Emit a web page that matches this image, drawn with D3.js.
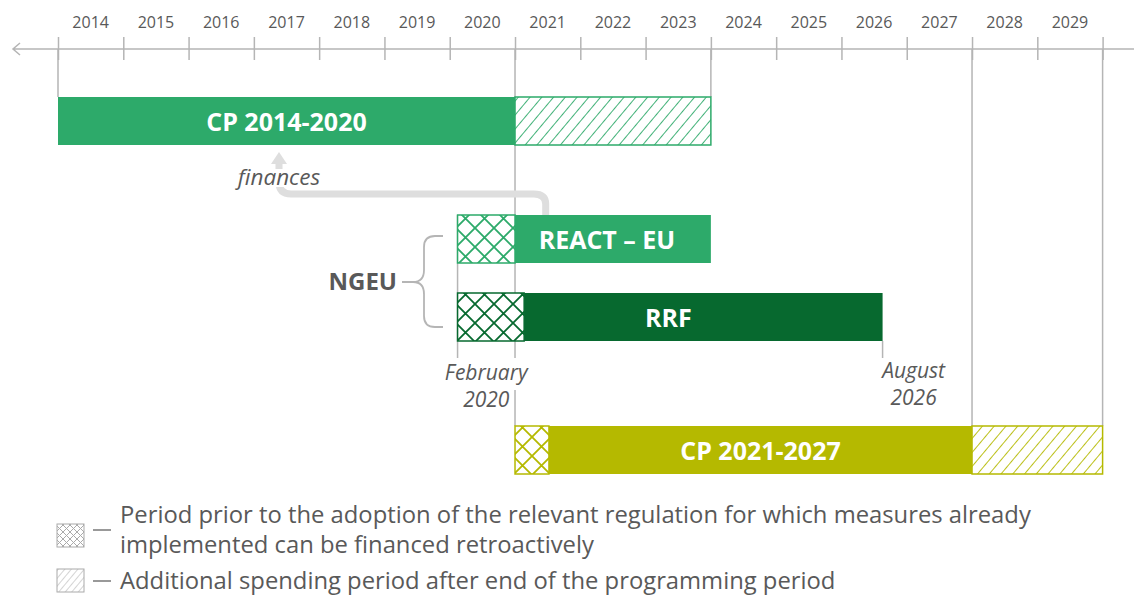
<!DOCTYPE html>
<html>
<head>
<meta charset="utf-8">
<script src="https://cdn.jsdelivr.net/npm/d3@7"></script>
<style>
  html, body { margin: 0; padding: 0; background: #fff; }
  svg { display: block; font-family: "Open Sans", sans-serif; }
</style>
</head>
<body>
<div id="chart"></div>
<script>
// DATA ###################################################
const yearLabels = [2014, 2015, 2016, 2017, 2018, 2019, 2020, 2021,
                    2022, 2023, 2024, 2025, 2026, 2027, 2028, 2029];
const programmes  = ["CP 2014-2020", "REACT – EU", "RRF", "CP 2021-2027"];
// decimal years
const retroStart  = [null, 2020.12, 2020.12, 2021.0];   // crosshatched part
const periodStart = [2014, 2021.0, 2021.14, 2021.52];
const periodEnd   = [2021, 2024, 2026.63, 2028];
const extraEnd    = [2024, null, null, 2030];           // hatched part
const dateNotes   = [["February", "2020"], ["August", "2026"]];
const dateNoteAt  = [2020.12, 2026.63];

// CONSTANTS ##############################################
const width = 1134, height = 597;
const axisY = 49;
const barH = 48;
const grey = "#b5b5b5";
const textGrey = "#595959";

const x = d3.scaleLinear().domain([2014, 2030]).range([58, 1102.6]);
const rowTop = d3.scaleOrdinal().domain(programmes).range([97, 215, 293, 426]);
const colour = d3.scaleOrdinal().domain(programmes)
    .range(["#2daa6a", "#2daa6a", "#07692f", "#b5b900"]);

const svg = d3.select("#chart").append("svg")
    .attr("width", width)
    .attr("height", height);

// PATTERNS ===============================================
const defs = svg.append("defs");
function hatch(id, col, gap, sw) {
  const p = defs.append("pattern").attr("id", id)
      .attr("patternUnits", "userSpaceOnUse")
      .attr("width", gap).attr("height", gap)
      .attr("patternTransform", "rotate(40)");
  p.append("rect").attr("width", gap).attr("height", gap).attr("fill", "#fff");
  p.append("line").attr("x1", 0).attr("y1", 0).attr("x2", 0).attr("y2", gap)
      .attr("stroke", col).attr("stroke-width", sw);
}
function cross(id, col, s, sw) {
  const p = defs.append("pattern").attr("id", id)
      .attr("patternUnits", "userSpaceOnUse")
      .attr("width", s).attr("height", s);
  p.append("rect").attr("width", s).attr("height", s).attr("fill", "#fff");
  p.append("path").attr("d", `M0,0L${s},${s}M${s},0L0,${s}`)
      .attr("stroke", col).attr("stroke-width", sw).attr("fill", "none");
}
programmes.forEach((p, i) => {
  hatch("hatch" + i, colour(p), 9, 1.8);
  cross("cross" + i, colour(p), 19, 1.8);
});
hatch("hatchLegend", "#aaa", 5, 1);
cross("crossLegend", "#aaa", 7, 1);

// AXIS ===================================================
svg.append("path")
    .attr("d", `M20,${axisY - 6}L13,${axisY}L20,${axisY + 6}M13,${axisY}H${width}`)
    .attr("fill", "none").attr("stroke", grey).attr("stroke-width", 1.5);

const ticks = svg.append("g")
    .attr("transform", `translate(0,${axisY})`)
    .call(d3.axisTop(x).tickValues(d3.range(2014, 2031)).tickFormat("").tickSize(12));
ticks.select(".domain").remove();
ticks.selectAll(".tick line").attr("y1", 11).attr("stroke", grey).attr("stroke-width", 1.5);

const yearBand = d3.scaleBand().domain(yearLabels).range(x.range());
const labels = svg.append("g")
    .attr("transform", `translate(0,28)`)
    .call(d3.axisTop(yearBand).tickSize(0).tickPadding(0));
labels.select(".domain").remove();
labels.selectAll("text")
    .style("font-family", "Open Sans")
    .style("font-size", "16px")
    .attr("fill", textGrey);

// GUIDE LINES ============================================
const guides = [[2014, 0], [2024, 0], [2028, 3], [2030, 3]];
svg.selectAll("line.guide")
  .data(guides)
  .join("line")
    .attr("class", "guide")
    .attr("x1", d => x(d[0])).attr("x2", d => x(d[0]))
    .attr("y1", axisY).attr("y2", d => rowTop(programmes[d[1]]))
    .attr("stroke", grey).attr("stroke-width", 1.5);

// 2021 line, broken around the "2020" note
[[axisY, 358], [390, rowTop(programmes[3])]].forEach(s => {
  svg.append("line")
      .attr("x1", x(2021)).attr("x2", x(2021))
      .attr("y1", s[0]).attr("y2", s[1])
      .attr("stroke", grey).attr("stroke-width", 1.5);
});

// date notes: short drop lines + italic text
const noteLine = [[rowTop(programmes[1]), 358], [rowTop(programmes[2]) + barH, 358]];
dateNoteAt.forEach((d, i) => {
  svg.append("line")
      .attr("x1", x(d)).attr("x2", x(d))
      .attr("y1", noteLine[i][0]).attr("y2", noteLine[i][1])
      .attr("stroke", grey).attr("stroke-width", 1.5);
});
const noteX = [(x(dateNoteAt[0]) + x(2021)) / 2, x(dateNoteAt[1]) + 31];
dateNotes.forEach((lines, i) => {
  const t = svg.append("text")
      .attr("text-anchor", "middle")
      .attr("x", noteX[i])
      .attr("y", i === 0 ? 380 : 378)
      .style("font-style", "italic")
      .style("font-size", "21px")
      .attr("fill", textGrey);
  lines.forEach((l, j) => t.append("tspan").attr("x", noteX[i]).attr("dy", j ? 27 : 0).text(l));
});

// FINANCES ARROW =========================================
const ax = 279, ay = 202, rx = x(2021.47);
svg.append("path")
    .attr("d", `M${rx},${rowTop(programmes[1])}V${ay + 2}Q${rx},${ay - 8} ${rx - 12},${ay - 8}` +
               `H${ax + 12}Q${ax},${ay - 8} ${ax},${ay - 20}V163`)
    .attr("fill", "none").attr("stroke", "#dedede").attr("stroke-width", 7);
svg.append("path")
    .attr("d", `M${ax},152L${ax + 8},164H${ax - 8}Z`)
    .attr("fill", "#dedede");
svg.append("rect")
    .attr("x", 234).attr("y", 169).attr("width", 92).attr("height", 18).attr("fill", "#fff");
svg.append("text")
    .attr("x", 279).attr("y", 185)
    .attr("text-anchor", "middle")
    .style("font-style", "italic")
    .style("font-size", "22.5px")
    .attr("fill", textGrey)
    .text("finances");

// BARS ===================================================
const bars = svg.append("g");
programmes.forEach((p, i) => {
  const y0 = rowTop(p);
  if (retroStart[i] !== null) {
    bars.append("rect")
        .attr("x", x(retroStart[i])).attr("y", y0)
        .attr("width", x(periodStart[i]) - x(retroStart[i])).attr("height", barH)
        .attr("fill", `url(#cross${i})`)
        .attr("stroke", colour(p)).attr("stroke-width", 1.5);
  }
  if (extraEnd[i] !== null) {
    bars.append("rect")
        .attr("x", x(periodEnd[i])).attr("y", y0)
        .attr("width", x(extraEnd[i]) - x(periodEnd[i])).attr("height", barH)
        .attr("fill", `url(#hatch${i})`)
        .attr("stroke", colour(p)).attr("stroke-width", 1.5);
  }
  bars.append("rect")
      .attr("x", x(periodStart[i])).attr("y", y0)
      .attr("width", x(periodEnd[i]) - x(periodStart[i])).attr("height", barH)
      .attr("fill", colour(p));
});

// bar labels
const labelShift = [0, -6, -35, 0];
bars.selectAll("text.bar")
  .data(programmes)
  .join("text")
    .attr("class", "bar")
    .attr("x", (d, i) => (x(periodStart[i]) + x(periodEnd[i])) / 2 + labelShift[i])
    .attr("y", d => rowTop(d) + 34)
    .attr("text-anchor", "middle")
    .style("font-weight", "bold")
    .style("font-size", "25px")
    .attr("fill", "#fff")
    .text(d => d);

// NGEU BRACE =============================================
svg.append("path")
    .attr("d", "M443,236H435Q424,236 424,247V270Q424,282 413,282Q424,282 424,294V316Q424,327 435,327H443M402,282H413")
    .attr("fill", "none").attr("stroke", grey).attr("stroke-width", 1.8);
svg.append("text")
    .attr("x", 397).attr("y", 290)
    .attr("text-anchor", "end")
    .style("font-weight", "bold")
    .style("font-size", "24px")
    .attr("fill", textGrey)
    .text("NGEU");

// LEGEND =================================================
const legendRows = [
  { fill: "url(#crossLegend)", y: 524, dashY: 530,
    lines: ["Period prior to the adoption of the relevant regulation for which measures already",
            "implemented can be financed retroactively"], ty: 523 },
  { fill: "url(#hatchLegend)", y: 569, dashY: 581,
    lines: ["Additional spending period after end of the programming period"], ty: 589 }
];
legendRows.forEach(r => {
  svg.append("rect")
      .attr("x", 57).attr("y", r.y).attr("width", 27).attr("height", 23)
      .attr("fill", r.fill).attr("stroke", "#aaa").attr("stroke-width", 1);
  svg.append("line")
      .attr("x1", 93).attr("x2", 111).attr("y1", r.dashY).attr("y2", r.dashY)
      .attr("stroke", "#777").attr("stroke-width", 1.5);
  const t = svg.append("text")
      .attr("y", r.ty)
      .style("font-size", "23.8px")
      .attr("fill", textGrey);
  r.lines.forEach((l, j) => t.append("tspan").attr("x", 120).attr("dy", j ? 30 : 0).text(l));
});
</script>
</body>
</html>
